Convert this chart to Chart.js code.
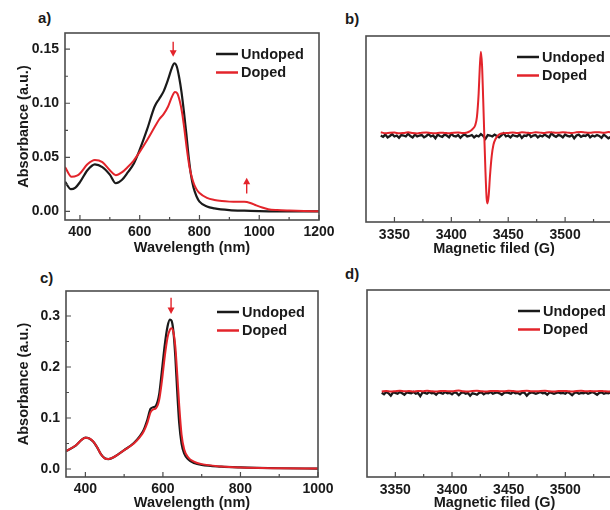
<!DOCTYPE html>
<html lang="en">
<head>
<meta charset="UTF-8">
<title>Absorbance and EPR spectra</title>
<style>
  body {
    margin: 0;
    width: 610px;
    height: 510px;
    overflow: hidden;
    background: #fff;
    position: relative;
    font-family: 'Liberation Sans', Arial, sans-serif;
  }
  canvas { position: absolute; }
  .tag {
    position: absolute;
    font-weight: bold;
    font-size: 15px;
    line-height: 1;
    color: #1a1a1a;
  }
</style>
<script src="https://cdn.jsdelivr.net/npm/chart.js"></script>
</head>
<body>
<div class="tag" style="left:38px;top:10px">a)</div>
<div class="tag" style="left:345px;top:11px">b)</div>
<div class="tag" style="left:40px;top:270px">c)</div>
<div class="tag" style="left:345px;top:266px">d)</div>

<canvas id="chartA" width="340" height="262" style="left:0;top:0"></canvas>
<canvas id="chartB" width="300" height="262" style="left:330px;top:0"></canvas>
<canvas id="chartC" width="340" height="262" style="left:0;top:255px"></canvas>
<canvas id="chartD" width="300" height="262" style="left:330px;top:255px"></canvas>

<script>
// ---- panel a : UV-vis-NIR absorbance ----
const wlA_undoped = [350,370,385,400,425,450,475,500,520,540,560,580,600,625,650,665,680,695,708,716,724,732,740,748,756,764,772,780,790,800,825,850,900,950,1000,1100,1200];
const absA_undoped = [0.0275,0.0205,0.022,0.027,0.038,0.0435,0.041,0.034,0.026,0.029,0.036,0.044,0.057,0.076,0.097,0.104,0.111,0.122,0.133,0.137,0.134,0.124,0.110,0.092,0.072,0.050,0.033,0.022,0.014,0.009,0.0045,0.0028,0.0012,0.0006,0.0003,0.0,0.0];
const wlA_doped = [350,372,390,400,425,450,475,500,520,540,560,580,600,625,650,665,680,695,708,718,726,734,742,750,758,766,774,782,790,800,825,850,875,900,925,950,970,990,1010,1030,1060,1100,1150,1200];
const absA_doped = [0.041,0.032,0.033,0.035,0.0435,0.0475,0.0455,0.038,0.0335,0.036,0.041,0.047,0.055,0.066,0.078,0.085,0.090,0.097,0.106,0.1105,0.109,0.102,0.091,0.075,0.057,0.042,0.032,0.025,0.0205,0.017,0.0125,0.0105,0.0095,0.009,0.0088,0.0088,0.0078,0.0055,0.0035,0.002,0.0012,0.0007,0.0003,0.0001];
const wlTicksA = [400,600,800,1000,1200];
const wlMinorA = [500,700,900,1100];
const absTicksA = [0,0.05,0.10,0.15];
const absLabelsA = ['0.00','0.05','0.10','0.15'];
const absMinorA = [0.025,0.075,0.125];
const arrowsA = [{x: 712, from: 0.157, to: 0.143}, {x: 958, from: 0.0165, to: 0.031}];

// ---- panel c : absorbance, second sample ----
const wlC = [350,375,390,400,410,420,430,440,450,460,475,500,525,540,550,560,568,575,582,590,597,605,612,618,622,627,632,637,642,648,655,665,680,700,750,800,900,1000];
const absC_undoped = [0.035,0.046,0.057,0.0615,0.060,0.054,0.043,0.029,0.021,0.0195,0.024,0.037,0.051,0.064,0.076,0.097,0.118,0.121,0.124,0.145,0.19,0.245,0.28,0.293,0.291,0.27,0.22,0.15,0.09,0.05,0.03,0.019,0.012,0.008,0.0045,0.003,0.0015,0.0008];
const absC_doped = [0.035,0.046,0.057,0.0615,0.060,0.054,0.043,0.029,0.021,0.0195,0.024,0.037,0.050,0.062,0.073,0.091,0.111,0.117,0.119,0.134,0.170,0.222,0.258,0.273,0.276,0.268,0.24,0.185,0.125,0.068,0.038,0.023,0.0145,0.0095,0.005,0.003,0.0015,0.0008];
const wlTicksC = [400,600,800,1000];
const wlMinorC = [500,700,900];
const absTicksC = [0,0.1,0.2,0.3];
const absLabelsC = ['0.0','0.1','0.2','0.3'];
const absMinorC = [0.05,0.15,0.25];
const arrowsC = [{x: 621, from: 0.336, to: 0.304}];

// ---- panels b, d : EPR (arbitrary units) ----
const fieldFine = [3338,3340,3342,3344,3346,3348,3350,3352,3354,3356,
  3358,3360,3362,3364,3366,3368,3370,3372,3374,3376,
  3378,3380,3382,3384,3386,3388,3390,3392,3394,3396,
  3398,3400,3402,3404,3406,3408,3410,3412,3414,3416,
  3418,3420,3422,3424,3426,3428,3430,3432,3434,3436,
  3438,3440,3442,3444,3446,3448,3450,3452,3454,3456,
  3458,3460,3462,3464,3466,3468,3470,3472,3474,3476,
  3478,3480,3482,3484,3486,3488,3490,3492,3494,3496,
  3498,3500,3502,3504,3506,3508,3510,3512,3514,3516,
  3518,3520,3522,3524,3526,3528,3530,3532,3534,3536,
  3538,3540,3542,3544,3546,3548,3550];
const fieldCoarse = [3338,3342,3346,3350,3354,3358,3362,3366,3370,3374,
  3378,3382,3386,3390,3394,3398,3402,3406,3410,3414,
  3418,3422,3426,3430,3434,3438,3442,3446,3450,3454,
  3458,3462,3466,3470,3474,3478,3482,3486,3490,3494,
  3498,3502,3506,3510,3514,3518,3522,3526,3530,3534,
  3538,3542,3546,3550];

const eprB_undoped = [-7,-8.5,-6,-9,-7.5,-5.5,-8,-7,-9.5,-6.5,
  -7,-8,-5,-7.5,-9,-6,-8,-7,-6.5,-9,
  -7.5,-5.5,-8,-7,-10,-6,-7.5,-8.5,-6,-7,
  -9,-5,-7.5,-8,-6.5,-9.5,-7,-6,-8,-7.5,
  -6.5,-9,-7,-8,-5.5,-7.5,-10.5,-6.5,-7,-8,
  -6,-7.5,-9,-7,-4.5,-8,-7,-9,-6.5,-7.5,
  -8,-6,-9.5,-7,-7.5,-5,-8.5,-7,-6.5,-9,
  -7,-8,-6,-7.5,-9,-4.5,-7,-8.5,-6.5,-7,
  -9,-6,-7.5,-8,-6.5,-10,-7,-6,-8.5,-7,
  -7.5,-5.5,-9,-7,-8,-6.5,-7.5,-9.5,-6,-8,
  -10,-8.5,-9,-11,-9.5,-10,-9];
const fieldB_doped = [3338,3342,3346,3350,3354,3358,3362,3366,3370,3374,3378,3382,3386,3390,3394,3398,3402,3406,3410,
  3413,3415,3417,3419,3421,3422.5,3424,3425,3426,3427,3428,3429,3430,3431,3431.8,3432.8,3434,3435.5,3437,3439,3441,3443,
  3446,3450,3454,3458,3462,3466,3470,3474,3478,3482,3486,3490,3494,3498,3502,3506,3510,3514,3518,3522,3526,3530,3534,3538,3542,3546,3550];
const eprB_doped = [-3.5,-4.5,-4,-3.8,-4.6,-4.2,-3.6,-4.4,-4.8,-4,-3.7,-4.3,-4.5,-3.9,-4.2,-4.6,-4,-3.8,-4.2,
  -4,-3.2,-1.8,0.5,4,13,38,66,83,68,32,-8,-46,-74,-80,-72,-50,-29,-17,-10.5,-7,-5.3,
  -4.5,-4.2,-3.8,-4.4,-3.6,-4,-4.3,-3.5,-3.9,-4.2,-3.4,-3.8,-4.1,-3.6,-3.9,-4.3,-3.5,-3.2,-3.8,-4,-3.4,-3.6,-4.1,-3.3,-3.7,-3.5,-3.9];

const eprD_undoped = [-10,-11.5,-9,-10.5,-13,-9.5,-10,-11,-9,-10.5,
  -12,-9.5,-10,-10.5,-9,-11,-10,-13.5,-9.5,-10,
  -11,-9,-10.5,-10,-12,-9.5,-10,-11,-9,-10.5,
  -10,-11.5,-9.5,-10,-12.5,-10,-9.5,-11,-10,-13,
  -10.5,-11,-12,-10,-9.5,-11.5,-10,-10.5,-9,-11,
  -10,-9.5,-10.5,-12,-10,-9.5,-10,-11,-9,-10.5,
  -10,-11.5,-9.5,-10,-13,-10.5,-9.5,-10,-11,-10,
  -9,-10.5,-10,-12,-9.5,-10,-11,-10,-9.5,-10.5,
  -10,-11,-9,-10.5,-12.5,-10,-9.5,-11,-10,-10.5,
  -9.5,-11,-10,-9,-10.5,-12,-10,-9.5,-11,-10,
  -10.5,-9.5,-11,-10,-12,-10.5,-11];
const eprD_doped = [-8.5,-8,-8.6,-8.2,-7.8,-8.4,-8.1,-8.6,-8,-8.3,
  -7.7,-8.2,-8.5,-8,-7.9,-8.4,-8.1,-7.6,-8.2,-8.5,
  -8,-7.8,-8.3,-8.6,-8.1,-7.9,-8.2,-8.4,-7.8,-8.1,
  -8.5,-8,-7.7,-8.2,-8.4,-8,-7.8,-8.3,-8.5,-8.1,
  -7.9,-8.2,-8.6,-8,-7.8,-8.3,-8.1,-8.4,-7.9,-8.2,
  -8.5,-8,-8.3,-8.1];
const fieldTicks = [3350,3400,3450,3500];
const fieldMinor = [3375,3425,3475,3525];

const INK = '#1a1a1a';
const RED = '#e3242b';
const FRAME = '#4d4d4d';
const FONT = "'Liberation Sans', Arial, sans-serif";

function toPoints(xs, ys) {
  return xs.map((x, i) => ({x: x, y: ys[i]}));
}

// frame, inward ticks, arrows and the in-plot legend
const decor = {
  id: 'decor',
  afterDatasetsDraw(chart, args, o) {
    const ctx = chart.ctx, area = chart.chartArea;
    const xs = chart.scales.x, ys = chart.scales.y;
    ctx.save();
    ctx.strokeStyle = FRAME;
    ctx.lineWidth = 1.2;
    ctx.beginPath();
    o.xMajor.forEach(v => { const p = xs.getPixelForValue(v); ctx.moveTo(p, area.bottom); ctx.lineTo(p, area.bottom - 5); });
    o.xMinor.forEach(v => { const p = xs.getPixelForValue(v); ctx.moveTo(p, area.bottom); ctx.lineTo(p, area.bottom - 3); });
    (o.yMajor || []).forEach(v => { const p = ys.getPixelForValue(v); ctx.moveTo(area.left, p); ctx.lineTo(area.left + 5, p); });
    (o.yMinor || []).forEach(v => { const p = ys.getPixelForValue(v); ctx.moveTo(area.left, p); ctx.lineTo(area.left + 3, p); });
    ctx.stroke();
    ctx.lineWidth = 1.6;
    ctx.strokeRect(area.left, area.top, area.width, area.height);

    ctx.strokeStyle = RED;
    ctx.fillStyle = RED;
    ctx.lineWidth = 1.4;
    (o.arrows || []).forEach(a => {
      const px = xs.getPixelForValue(a.x);
      const y0 = ys.getPixelForValue(a.from), y1 = ys.getPixelForValue(a.to);
      const dir = Math.sign(y1 - y0);
      ctx.beginPath(); ctx.moveTo(px, y0); ctx.lineTo(px, y1 - dir * 4); ctx.stroke();
      ctx.beginPath(); ctx.moveTo(px, y1); ctx.lineTo(px - 3.5, y1 - dir * 6.5); ctx.lineTo(px + 3.5, y1 - dir * 6.5); ctx.closePath(); ctx.fill();
    });

    ctx.font = 'bold 14.5px ' + FONT;
    ctx.textBaseline = 'middle';
    ctx.textAlign = 'left';
    chart.data.datasets.forEach((ds, i) => {
      const x = area.left + 151, y = area.top + 21 + i * 18.5;
      ctx.strokeStyle = ds.borderColor;
      ctx.lineWidth = 2.5;
      ctx.beginPath(); ctx.moveTo(x, y); ctx.lineTo(x + 22, y); ctx.stroke();
      ctx.fillStyle = INK;
      ctx.fillText(ds.label, x + 25, y + 0.5);
    });
    ctx.restore();
  }
};

function makePanel(id, p) {
  const tickFont = {family: FONT, size: 14, weight: 'bold'};
  const titleFont = {family: FONT, size: 14.5, weight: 'bold'};
  const yScale = p.yTicks ? {
    type: 'linear', min: p.yMin, max: p.yMax,
    afterBuildTicks: s => { s.ticks = p.yTicks.map(v => ({value: v})); },
    afterFit: s => { s.width = p.yWidth; },
    grid: {display: false, drawTicks: false},
    border: {display: false},
    ticks: {font: tickFont, color: INK, padding: 6, callback: (v, i) => p.yLabels[i]},
    title: {display: true, text: 'Absorbance (a.u.)', font: titleFont, color: INK, padding: {top: 15, bottom: 0}}
  } : {type: 'linear', min: p.yMin, max: p.yMax, display: false};

  return new Chart(document.getElementById(id), {
    type: 'line',
    data: {
      datasets: [
        {label: 'Undoped', data: p.black, borderColor: INK, borderWidth: p.blackWidth, pointRadius: 0,
         cubicInterpolationMode: p.smooth ? 'monotone' : 'default', tension: 0, order: 1},
        {label: 'Doped', data: p.red, borderColor: RED, borderWidth: 2, pointRadius: 0,
         cubicInterpolationMode: 'monotone', tension: 0, order: 0}
      ]
    },
    options: {
      responsive: false,
      animation: false,
      events: [],
      layout: {padding: p.pad},
      plugins: {
        legend: {display: false},
        tooltip: {enabled: false},
        decor: {xMajor: p.xTicks, xMinor: p.xMinor, yMajor: p.yTicks, yMinor: p.yMinor, arrows: p.arrows}
      },
      scales: {
        x: {
          type: 'linear', min: p.xMin, max: p.xMax,
          afterBuildTicks: s => { s.ticks = p.xTicks.map(v => ({value: v})); },
          afterFit: s => { s.height = p.xHeight; },
          grid: {display: false, drawTicks: false},
          border: {display: false},
          ticks: {font: tickFont, color: INK, padding: p.xPad, maxRotation: 0, autoSkip: false, callback: v => String(v)},
          title: {display: true, text: p.xTitle, font: titleFont, color: INK, padding: {top: 0, bottom: 0}}
        },
        y: yScale
      }
    },
    plugins: [decor]
  });
}

makePanel('chartA', {
  black: toPoints(wlA_undoped, absA_undoped), red: toPoints(wlA_doped, absA_doped),
  blackWidth: 2.2, smooth: true,
  xMin: 350, xMax: 1200, xTicks: wlTicksA, xMinor: wlMinorA, xTitle: 'Wavelength (nm)',
  yMin: -0.008, yMax: 0.165, yTicks: absTicksA, yLabels: absLabelsA, yMinor: absMinorA,
  arrows: arrowsA, pad: {left: 0, top: 33, right: 21, bottom: 5}, yWidth: 65, xHeight: 37, xPad: 4
});

makePanel('chartB', {
  black: toPoints(fieldFine, eprB_undoped), red: toPoints(fieldB_doped, eprB_doped),
  blackWidth: 2.3, smooth: false,
  xMin: 3325, xMax: 3550, xTicks: fieldTicks, xMinor: fieldMinor, xTitle: 'Magnetic filed (G)',
  yMin: -100, yMax: 100,
  pad: {left: 36, top: 36, right: 8, bottom: 4}, xHeight: 36, xPad: 5
});

makePanel('chartC', {
  black: toPoints(wlC, absC_undoped), red: toPoints(wlC, absC_doped),
  blackWidth: 2.2, smooth: true,
  xMin: 350, xMax: 1000, xTicks: wlTicksC, xMinor: wlMinorC, xTitle: 'Wavelength (nm)',
  yMin: -0.0157, yMax: 0.349, yTicks: absTicksC, yLabels: absLabelsC, yMinor: absMinorC,
  arrows: arrowsC, pad: {left: 0, top: 36, right: 22, bottom: 5}, yWidth: 66, xHeight: 35, xPad: 4
});

makePanel('chartD', {
  black: toPoints(fieldFine, eprD_undoped), red: toPoints(fieldCoarse, eprD_doped),
  blackWidth: 2.3, smooth: false,
  xMin: 3325, xMax: 3550, xTicks: fieldTicks, xMinor: fieldMinor, xTitle: 'Magnetic filed (G)',
  yMin: -100, yMax: 100,
  pad: {left: 37, top: 35, right: 8, bottom: 5}, xHeight: 35, xPad: 5
});
</script>
</body>
</html>
